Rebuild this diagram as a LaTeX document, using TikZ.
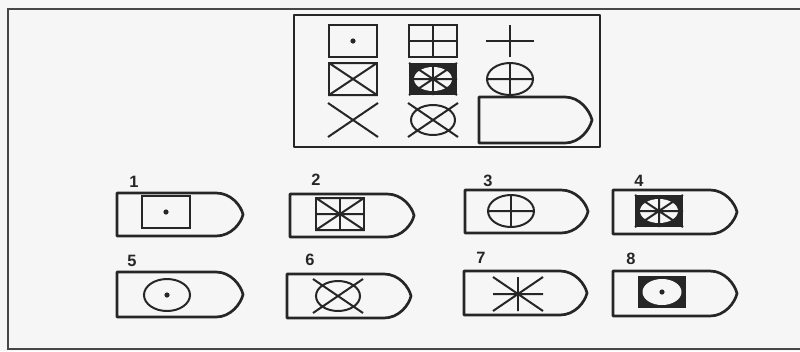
\documentclass[tikz,border=0pt]{standalone}
\usepackage{fontspec}
\setmainfont{Liberation Sans}
\usetikzlibrary{positioning}
\definecolor{inkc}{HTML}{262626}
\definecolor{paperc}{HTML}{F6F6F6}

\newcommand\hullshape[4]{%
  \draw[hull] (#1,#2) -- ({#4-27},#2)
    .. controls ({#4-12},#2) and ({#4-2},{(#2+#3)/2-9}) .. (#4,{(#2+#3)/2})
    .. controls ({#4-2},{(#2+#3)/2+9}) and ({#4-12},#3) .. ({#4-27},#3)
    -- (#1,#3) -- cycle;}

\tikzset{
  symline/.style={draw=inkc, line width=1.7pt},
  hull/.style={draw=inkc, line width=2.3pt, line join=round},
  num/.style={font=\fontsize{14}{14}\selectfont\bfseries, text=inkc, inner sep=0pt},
  pics/sqdot/.style={code={
    \draw[symline] (-24,-16) rectangle (24,16);
    \fill[inkc] (0,0) circle[radius=2.6];}},
  pics/grid/.style={code={
    \draw[symline] (-24,-16) rectangle (24,16) (-24,0) -- (24,0) (0,-16) -- (0,16);}},
  pics/plus/.style={code={
    \draw[symline] (-24,0) -- (24,0) (0,-16) -- (0,16);}},
  pics/sqx/.style={code={
    \draw[symline] (-24,-16) rectangle (24,16) (-24,-16) -- (24,16) (-24,16) -- (24,-16);}},
  pics/sqstar/.style={code={
    \draw[symline] (-24,-16) rectangle (24,16) (-24,-16) -- (24,16) (-24,16) -- (24,-16)
      (-24,0) -- (24,0) (0,-16) -- (0,16);}},
  pics/darkstar/.style={code={
    \fill[inkc] (-24,-16) rectangle (24,16);
    \fill[paperc] (0,0) circle[x radius=19, y radius=12];
    \draw[symline] (-24,-16) -- (24,16) (-24,16) -- (24,-16) (-24,0) -- (24,0) (0,-16) -- (0,16);}},
  pics/darkdot/.style={code={
    \fill[inkc] (-24,-16) rectangle (24,16);
    \fill[paperc] (0,0) circle[x radius=19.5, y radius=13];
    \fill[inkc] (0,0) circle[radius=2.6];}},
  pics/circplus/.style={code={
    \draw[symline] (0,0) circle[x radius=23, y radius=16] (-23,0) -- (23,0) (0,-16) -- (0,16);}},
  pics/circdot/.style={code={
    \draw[symline] (0,0) circle[x radius=23, y radius=16];
    \fill[inkc] (0,0) circle[radius=2.6];}},
  pics/cross/.style={code={
    \draw[symline] (-25,-17) -- (25,17) (-25,17) -- (25,-17);}},
  pics/circx/.style={code={
    \draw[symline] (0,0) circle[x radius=22, y radius=15] (-25,-17) -- (25,17) (-25,17) -- (25,-17);}},
  pics/star/.style={code={
    \draw[symline] (-25,-17) -- (25,17) (-25,17) -- (25,-17) (-25,0) -- (25,0) (0,-17) -- (0,17);}}
}

\begin{document}
\begin{tikzpicture}[x=0.03cm, y=-0.03cm]
\useasboundingbox (0,0) rectangle (800,351);
\clip (0,0) rectangle (800,351);
\fill[paperc] (0,0) rectangle (800,351);
\draw[draw=inkc!85, line width=1.9pt] (8,9) rectangle (806,349);

% key panel
\draw[hull] (294,15) rectangle (600,147);
\pic at (353,41) {sqdot};
\pic at (433,41) {grid};
\pic at (510,41) {plus};
\pic at (353,79) {sqx};
\pic at (433,79) {darkstar};
\pic at (510,79) {circplus};
\pic at (353,120) {cross};
\pic at (433,120) {circx};
\hullshape{479}{97}{143}{592}

% first row
\hullshape{117}{193}{236}{243}
\pic at (166,212) {sqdot};
\node[num] (n1) at (134,182) {1};
\hullshape{290}{194}{237}{414}
\pic at (340,214) {sqstar};
\node[num] (n2) at (316,180) {2};
\hullshape{465}{190}{233}{588}
\pic at (511,211) {circplus};
\node[num] (n3) at (488,181) {3};
\hullshape{613}{190}{234}{737}
\pic at (659,211) {darkstar};
\node[num] (n4) at (639,181) {4};

% second row
\hullshape{117}{272}{317}{243}
\pic at (167,295) {circdot};
\node[num] (n5) at (132,261) {5};
\hullshape{287}{274}{318}{411}
\pic at (338,296) {circx};
\node[num] (n6) at (310,260) {6};
\hullshape{464}{271}{315}{587}
\pic at (518,294) {star};
\node[num] (n7) at (481,258) {7};
\hullshape{613}{271}{316}{737}
\pic at (662,292) {darkdot};
\node[num] (n8) at (631,259) {8};
\end{tikzpicture}
\end{document}
